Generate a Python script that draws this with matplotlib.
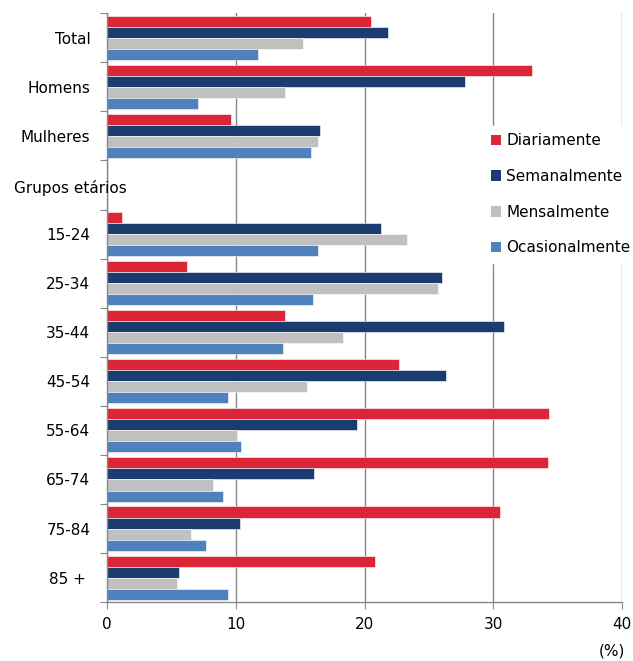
import numpy as np
import matplotlib.pyplot as plt
from matplotlib.patches import Patch

# categories from top to bottom; the empty slot holds the "Grupos etários" heading
categories = ['Total', 'Homens', 'Mulheres', '', '15-24', '25-34', '35-44',
              '45-54', '55-64', '65-74', '75-84', '85 + ']

series = ['Diariamente', 'Semanalmente', 'Mensalmente', 'Ocasionalmente']
diariamente = [20.5, 33.0, 9.6, np.nan, 1.2, 6.2, 13.8, 22.7, 34.3, 34.2, 30.5, 20.8]
semanalmente = [21.8, 27.8, 16.5, np.nan, 21.3, 26.0, 30.8, 26.3, 19.4, 16.1, 10.3, 5.6]
mensalmente = [15.2, 13.8, 16.4, np.nan, 23.3, 25.7, 18.3, 15.5, 10.1, 8.2, 6.5, 5.4]
ocasionalmente = [11.7, 7.1, 15.8, np.nan, 16.4, 16.0, 13.7, 9.4, 10.4, 9.0, 7.7, 9.4]
colors = ['#DC2638', '#1B3C6E', '#C0C0C0', '#4F81BD']

plt.rcParams['font.family'] = ['DejaVu Sans']

fig = plt.figure(figsize=(6.33, 6.61), dpi=100)
ax = fig.add_axes([0.169, 0.089, 0.814, 0.891])

y = np.arange(len(categories))
h = 0.225
values = [diariamente, semanalmente, mensalmente, ocasionalmente]
for k, (vals, c) in enumerate(zip(values, colors)):
    ax.barh(y + (k - 1.5) * h, vals, height=h, color=c,
            edgecolor='white', linewidth=0.4)

ax.set_ylim(len(categories) - 0.5, -0.5)
ax.set_xlim(0, 40)
ax.set_xticks([0, 10, 20, 30, 40])
# band separators as major ticks, category names on minor ticks
ax.set_yticks(np.arange(len(categories) + 1) - 0.5, minor=False)
ax.set_yticklabels([])
ax.set_yticks(y, minor=True)
ax.set_yticklabels(categories, minor=True, fontsize=11)
ax.tick_params(axis='y', which='minor', length=0, pad=12)
ax.tick_params(axis='y', which='major', length=5, color='#888888')
ax.tick_params(axis='x', length=5, color='#888888', labelsize=11, pad=6)

ax.grid(axis='x', color='#888888', linewidth=1)
ax.set_axisbelow(True)
for s in ['top', 'right']:
    ax.spines[s].set_visible(False)
for s in ['left', 'bottom']:
    ax.spines[s].set_color('#888888')
    ax.spines[s].set_linewidth(1)

fig.text(0.022, 0.716, 'Grupos etários', fontsize=11, va='center', ha='left')
fig.text(0.967, 0.015, '(%)', fontsize=11, ha='center', va='center')

handles = [Patch(facecolor=c, edgecolor='none') for c in colors]
leg = ax.legend(handles, series, loc='upper left', bbox_to_anchor=(0.73, 0.809),
                fontsize=11, frameon=True, fancybox=False, edgecolor='white',
                facecolor='white', framealpha=1, handlelength=0.7,
                handleheight=0.7, handletextpad=0.3, labelspacing=1.35,
                borderpad=0.5, borderaxespad=0)

fig.savefig('out.png', dpi=100)
